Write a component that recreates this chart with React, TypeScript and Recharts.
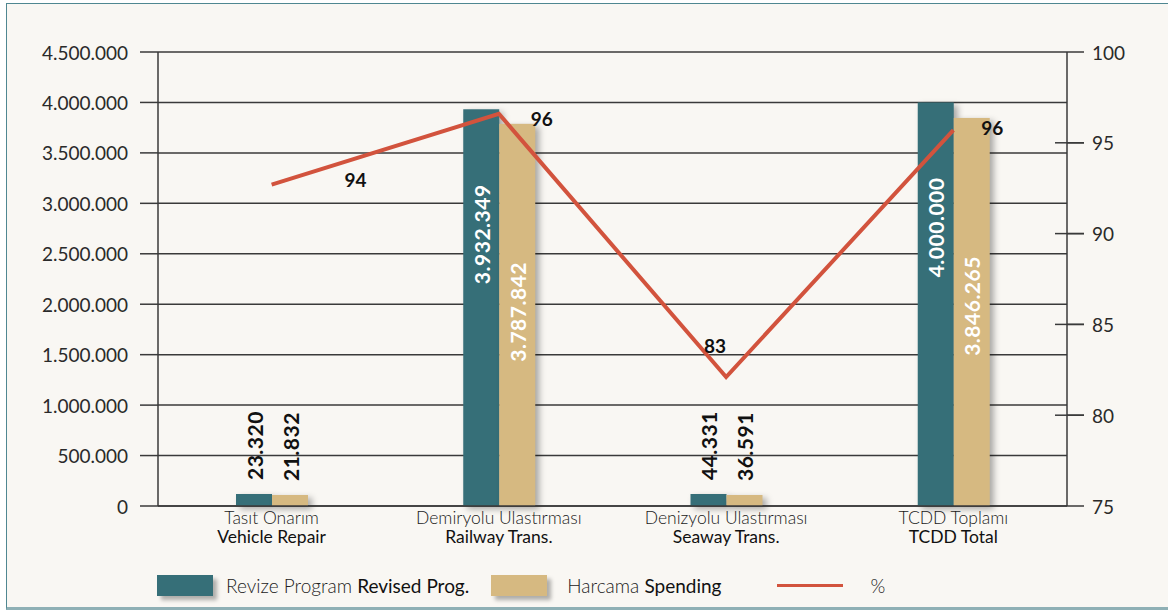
import React from 'react';
import { ComposedChart, Bar, Line, XAxis, YAxis, CartesianGrid, LabelList, Legend } from 'recharts';

const categoriesTr = ['Tasıt Onarım', 'Demiryolu Ulastırması', 'Denizyolu Ulastırması', 'TCDD Toplamı'];
const categoriesEn = ['Vehicle Repair', 'Railway Trans.', 'Seaway Trans.', 'TCDD Total'];
const revisedValues = [23320, 3932349, 44331, 4000000];
const spendingValues = [21832, 3787842, 36591, 3846265];
const percentValues = [92.7, 96.6, 82.1, 95.7];
const percentLabels = ['94', '96', '83', '96'];
const amountTicks = [0, 500000, 1000000, 1500000, 2000000, 2500000, 3000000, 3500000, 4000000, 4500000];
const percentTicks = [75, 80, 85, 90, 95, 100];
const separatorTicks = [0, 1, 2, 3, 4];

// label placement (pixels) for the percentage labels
const pctLabelDx = [84, 43, -11, 39];
const pctLabelDy = [-5, 5, -32, -3];

const data = categoriesTr.map((tr, i) => ({
  tr,
  en: categoriesEn[i],
  revised: revisedValues[i],
  spending: spendingValues[i],
  pct: percentValues[i],
}));

const FONT = 'Lato, "Open Sans", sans-serif';
const TEAL = '#366f78';
const TAN = '#d6b981';
const RED = '#d2533d';
const GRID = '#3a3a3a';

const fmt = (n: number) => String(n).replace(/\B(?=(\d{3})+(?!\d))/g, '.');

const ShadowRect = (props: any) => {
  const { x, y, width, height, fill } = props;
  if (width == null || height == null) return null;
  return (
    <rect
      x={x}
      y={y}
      width={width}
      height={height}
      fill={fill}
      style={{ filter: 'drop-shadow(4px 3px 3px rgba(0,0,0,0.32))' }}
    />
  );
};

const barLabel = (insideOffset: number) => (props: any) => {
  const { x, y, width, value } = props;
  const cx = Number(x) + Number(width) / 2;
  if (value >= 1000000) {
    const cy = Number(y) + insideOffset;
    return (
      <text
        x={cx}
        y={cy}
        transform={`rotate(-90 ${cx} ${cy})`}
        textAnchor="middle"
        dominantBaseline="central"
        fill="#ffffff"
        fontFamily={FONT}
        fontWeight={700}
        fontSize={21}
        letterSpacing={0.5}
      >
        {fmt(value)}
      </text>
    );
  }
  const by = Number(y) - 14;
  return (
    <text
      x={cx}
      y={by}
      transform={`rotate(-90 ${cx} ${by})`}
      textAnchor="start"
      dominantBaseline="central"
      fill="#111"
      fontFamily={FONT}
      fontWeight={700}
      fontSize={21}
      letterSpacing={0.5}
    >
      {fmt(value)}
    </text>
  );
};

const lineLabel = (props: any) => {
  const { x, y, index } = props;
  const lx = Number(x) + pctLabelDx[index];
  const ly = Number(y) + pctLabelDy[index];
  return (
    <text
      x={lx}
      y={ly}
      textAnchor="middle"
      dominantBaseline="central"
      fill="#111"
      fontFamily={FONT}
      fontWeight={700}
      fontSize={19}
    >
      {percentLabels[index]}
    </text>
  );
};

const CategoryTick = (props: any) => {
  const { x, y, payload } = props;
  const i = payload.index;
  return (
    <g>
      <text x={x} y={y + 18} textAnchor="middle" fontFamily={FONT} fontSize={17.5} fontWeight={300} fill="#1a1a1a">
        {categoriesTr[i]}
      </text>
      <text x={x} y={y + 37} textAnchor="middle" fontFamily={FONT} fontSize={17.5} fontWeight={400} fill="#111">
        {categoriesEn[i]}
      </text>
    </g>
  );
};

const PercentTick = (props: any) => {
  const { x, y, payload } = props;
  const v = payload.value;
  return (
    <g>
      {v > 75 && v < 100 && (
        <line x1={x - 37} x2={x - 8} y1={y} y2={y} stroke={GRID} strokeWidth={1.5} />
      )}
      <text x={x} y={y} dominantBaseline="central" textAnchor="start" fontFamily={FONT} fontSize={19} fill="#2a2a2a">
        {v}
      </text>
    </g>
  );
};

const AmountTick = (props: any) => {
  const { x, y, payload } = props;
  return (
    <text x={x} y={y} dominantBaseline="central" textAnchor="end" fontFamily={FONT} fontSize={19} fill="#2a2a2a">
      {fmt(payload.value)}
    </text>
  );
};

const LegendContent = () => (
  <div style={{ height: 40, display: 'flex', alignItems: 'flex-end', paddingLeft: 157, fontFamily: FONT, fontSize: 19, color: '#222' }}>
    <div style={{ display: 'flex', alignItems: 'center', height: 21 }}>
      <div style={{ width: 56, height: 21, background: TEAL, boxShadow: '4px 4px 4px rgba(0,0,0,0.3)' }} />
      <span style={{ marginLeft: 13, whiteSpace: 'nowrap' }}>
        <span style={{ fontWeight: 300 }}>Revize Program </span>
        <span style={{ fontWeight: 400, color: '#111' }}>Revised Prog.</span>
      </span>
      <div style={{ marginLeft: 22, width: 56, height: 21, background: TAN, boxShadow: '4px 4px 4px rgba(0,0,0,0.3)' }} />
      <span style={{ marginLeft: 20, whiteSpace: 'nowrap' }}>
        <span style={{ fontWeight: 300 }}>Harcama </span>
        <span style={{ fontWeight: 400, color: '#111' }}>Spending</span>
      </span>
      <div style={{ marginLeft: 55, width: 66, height: 3, background: RED }} />
      <span style={{ marginLeft: 28, fontWeight: 300 }}>%</span>
    </div>
  </div>
);

export default function App() {
  return (
    <div style={{ position: 'absolute', left: 0, top: 0, width: 1168, height: 611, overflow: 'hidden', background: '#ffffff' }}>
      <div
        style={{
          position: 'absolute',
          left: 6,
          top: 3,
          width: 1200,
          height: 603,
          background: '#f9f7f3',
          borderTop: '1px solid #4f8791',
          borderLeft: '1.5px solid #4f8791',
          borderBottom: '3px solid #8fb0b5',
        }}
      />
      <div style={{ position: 'absolute', left: 0, top: 0 }}>
        <ComposedChart
          width={1168}
          height={611}
          data={data}
          margin={{ top: 52, right: 0, left: 0, bottom: 15 }}
          barGap={0}
        >
          <CartesianGrid xAxisId="cat" yAxisId="amt" vertical={false} stroke={GRID} strokeWidth={1.5} />
          <XAxis
            xAxisId="sep"
            type="number"
            domain={[0, 4]}
            ticks={separatorTicks}
            allowDataOverflow
            height={0}
            tickSize={17}
            tick={false}
            axisLine={false}
            tickLine={{ stroke: GRID, strokeWidth: 1.5 }}
          />
          <XAxis
            xAxisId="cat"
            dataKey="tr"
            height={50}
            tickLine={false}
            tickSize={0}
            tickMargin={0}
            axisLine={{ stroke: GRID, strokeWidth: 1.5 }}
            tick={<CategoryTick />}
            interval={0}
          />
          <YAxis
            yAxisId="amt"
            orientation="left"
            width={158}
            domain={[0, 4500000]}
            ticks={amountTicks}
            tickSize={18}
            tickMargin={12}
            tickLine={{ stroke: GRID, strokeWidth: 1.5 }}
            axisLine={{ stroke: GRID, strokeWidth: 1.5 }}
            tick={<AmountTick />}
            interval={0}
          />
          <YAxis
            yAxisId="amt2"
            orientation="right"
            width={0}
            domain={[0, 4500000]}
            ticks={amountTicks}
            tickSize={17}
            tick={false}
            axisLine={false}
            tickLine={{ stroke: GRID, strokeWidth: 1.5 }}
            interval={0}
          />
          <YAxis
            yAxisId="pct"
            orientation="right"
            width={101}
            domain={[75, 100]}
            ticks={percentTicks}
            tickSize={17}
            tickMargin={8}
            tickLine={{ stroke: GRID, strokeWidth: 1.5 }}
            axisLine={{ stroke: GRID, strokeWidth: 1.5 }}
            tick={<PercentTick />}
            interval={0}
          />
          <Bar
            xAxisId="cat"
            yAxisId="amt"
            dataKey="revised"
            fill={TEAL}
            barSize={36}
            minPointSize={12}
            shape={<ShadowRect />}
            isAnimationActive={false}
          >
            <LabelList dataKey="revised" content={barLabel(125)} />
          </Bar>
          <Bar
            xAxisId="cat"
            yAxisId="amt"
            dataKey="spending"
            fill={TAN}
            barSize={36}
            minPointSize={11}
            shape={<ShadowRect />}
            isAnimationActive={false}
          >
            <LabelList dataKey="spending" content={barLabel(188)} />
          </Bar>
          <Line
            xAxisId="cat"
            yAxisId="pct"
            dataKey="pct"
            stroke={RED}
            strokeWidth={4}
            strokeLinejoin="miter"
            dot={false}
            activeDot={false}
            isAnimationActive={false}
          >
            <LabelList dataKey="pct" content={lineLabel} />
          </Line>
          <Legend verticalAlign="bottom" content={<LegendContent />} wrapperStyle={{ left: 0, width: 1168 }} />
        </ComposedChart>
      </div>
    </div>
  );
}
